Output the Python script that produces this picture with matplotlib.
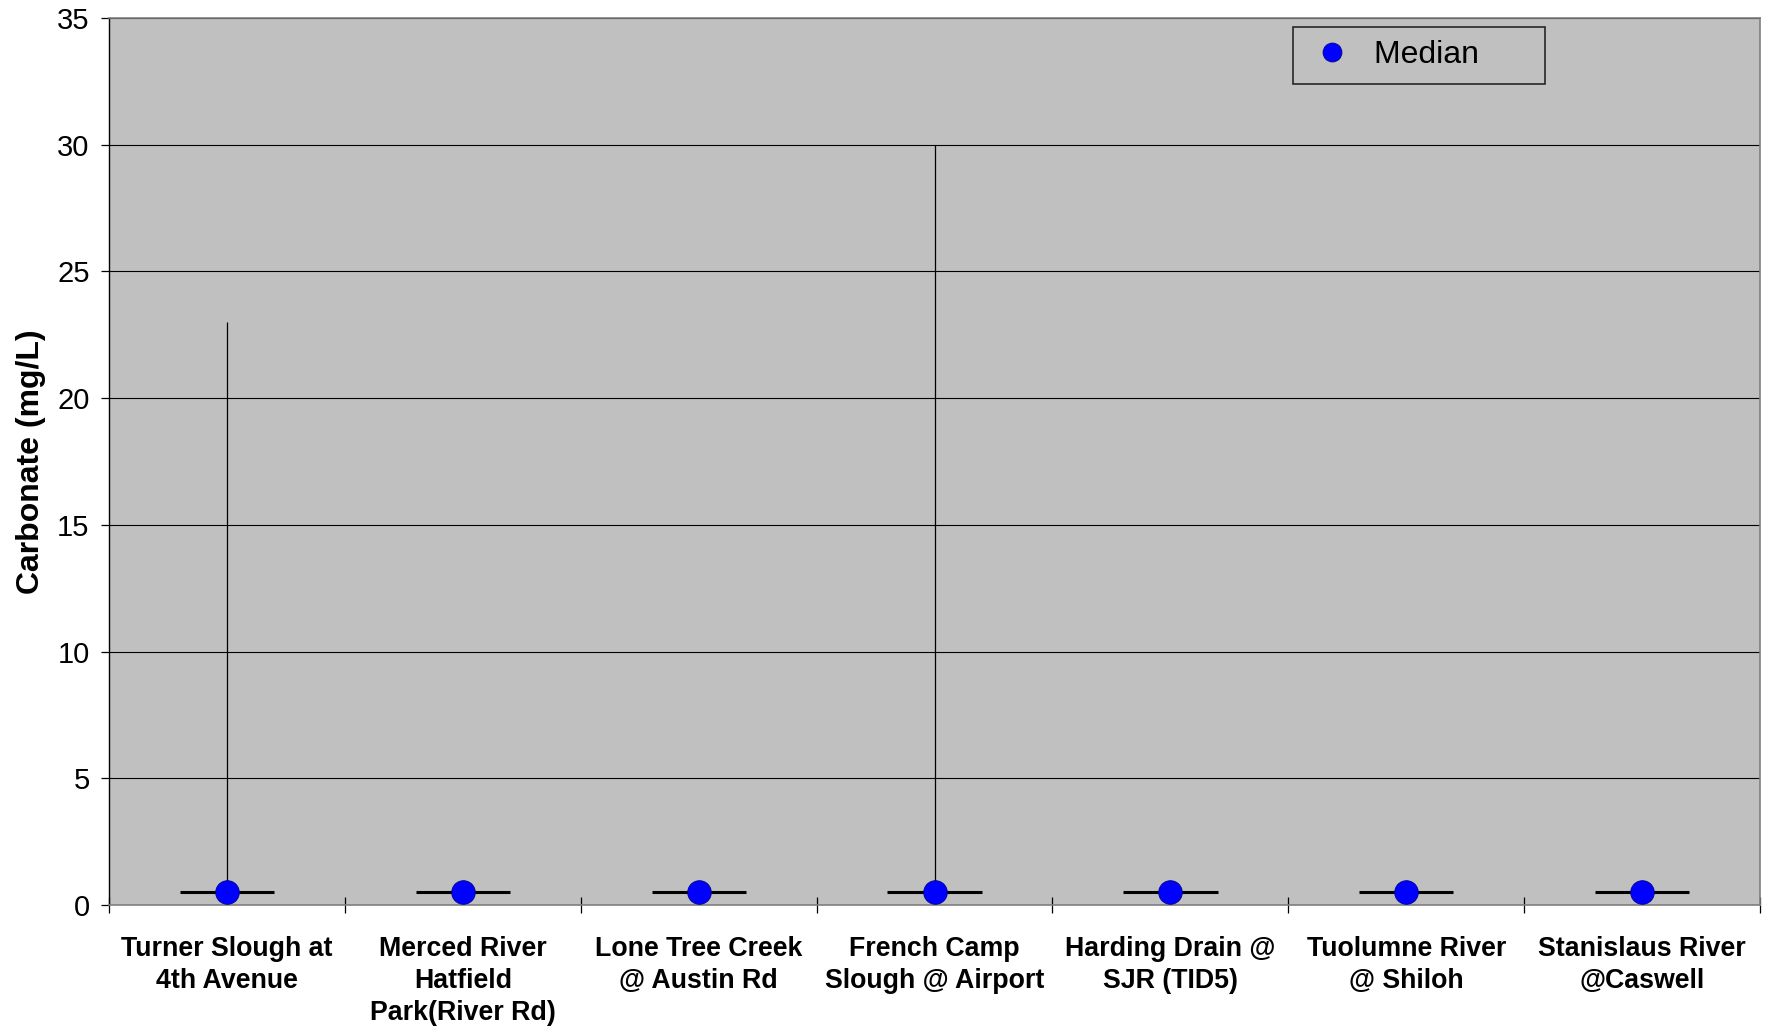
import numpy as np
import matplotlib
matplotlib.use('Agg')
import matplotlib.pyplot as plt

plt.rcParams['font.family'] = ['Liberation Sans', 'DejaVu Sans']

sites = ['Turner Slough at\n4th Avenue', 'Merced River\nHatfield\nPark(River Rd)',
         'Lone Tree Creek\n@ Austin Rd', 'French Camp\nSlough @ Airport',
         'Harding Drain @\nSJR (TID5)', 'Tuolumne River\n@ Shiloh', 'Stanislaus River\n@Caswell']
medians = [0.5, 0.5, 0.5, 0.5, 0.5, 0.5, 0.5]
lows = [0.5, 0.5, 0.5, 0.5, 0.5, 0.5, 0.5]
highs = [23, 0.5, 0.5, 30, 0.5, 0.5, 0.5]

fig = plt.figure(figsize=(17.7, 10.29), dpi=100)
ax = fig.add_axes([0.0616, 0.1205, 0.9328, 0.862])
ax.set_facecolor('#c0c0c0')

x = np.arange(len(sites))
# range lines
ax.vlines(x, lows, highs, color='black', linewidth=0.9, zorder=2)
# short dash at low value
ax.hlines(lows, x - 0.2, x + 0.2, color='black', linewidth=2.2, zorder=3)
ax.plot(x, medians, 'o', color='#0000ff', markeredgecolor='#00008b', markeredgewidth=0.6,
        markersize=17, linestyle='none', zorder=4, label='Median')

ax.set_xlim(-0.5, len(sites) - 0.5)
ax.set_ylim(0, 35)
ax.set_yticks(np.arange(0, 36, 5))
ax.yaxis.grid(True, color='black', linewidth=0.8)
ax.set_axisbelow(True)

ax.set_xticks(x)
ax.set_xticklabels(sites, fontsize=19.3, fontweight='bold', linespacing=1.32)
ax.tick_params(axis='x', which='major', length=0, pad=22)
ax.set_xticks(np.arange(-0.5, len(sites)), minor=True)
ax.tick_params(axis='x', which='minor', direction='inout', length=12, width=0.9)
ax.tick_params(axis='y', direction='out', length=6, width=0.9, labelsize=21, pad=8)

ax.set_ylabel('Carbonate (mg/L)', fontsize=23, fontweight='bold', labelpad=8)

for s in ['top', 'right', 'bottom']:
    ax.spines[s].set_color('#808080')
    ax.spines[s].set_linewidth(1.2)
ax.spines['left'].set_color('black')
ax.spines['left'].set_linewidth(1.0)

handles, labels = ax.get_legend_handles_labels()
leg = ax.legend(handles, [labels[0] + '      '], loc='upper right',
                bbox_to_anchor=(0.870, 0.99), fontsize=23,
                frameon=True, fancybox=False, edgecolor='black', facecolor='#c0c0c0',
                borderpad=0.42, handletextpad=0.5, borderaxespad=0, markerscale=0.8,
                handlelength=1.6)
leg.get_frame().set_linewidth(1.2)

fig.savefig('out.png', dpi=100)
